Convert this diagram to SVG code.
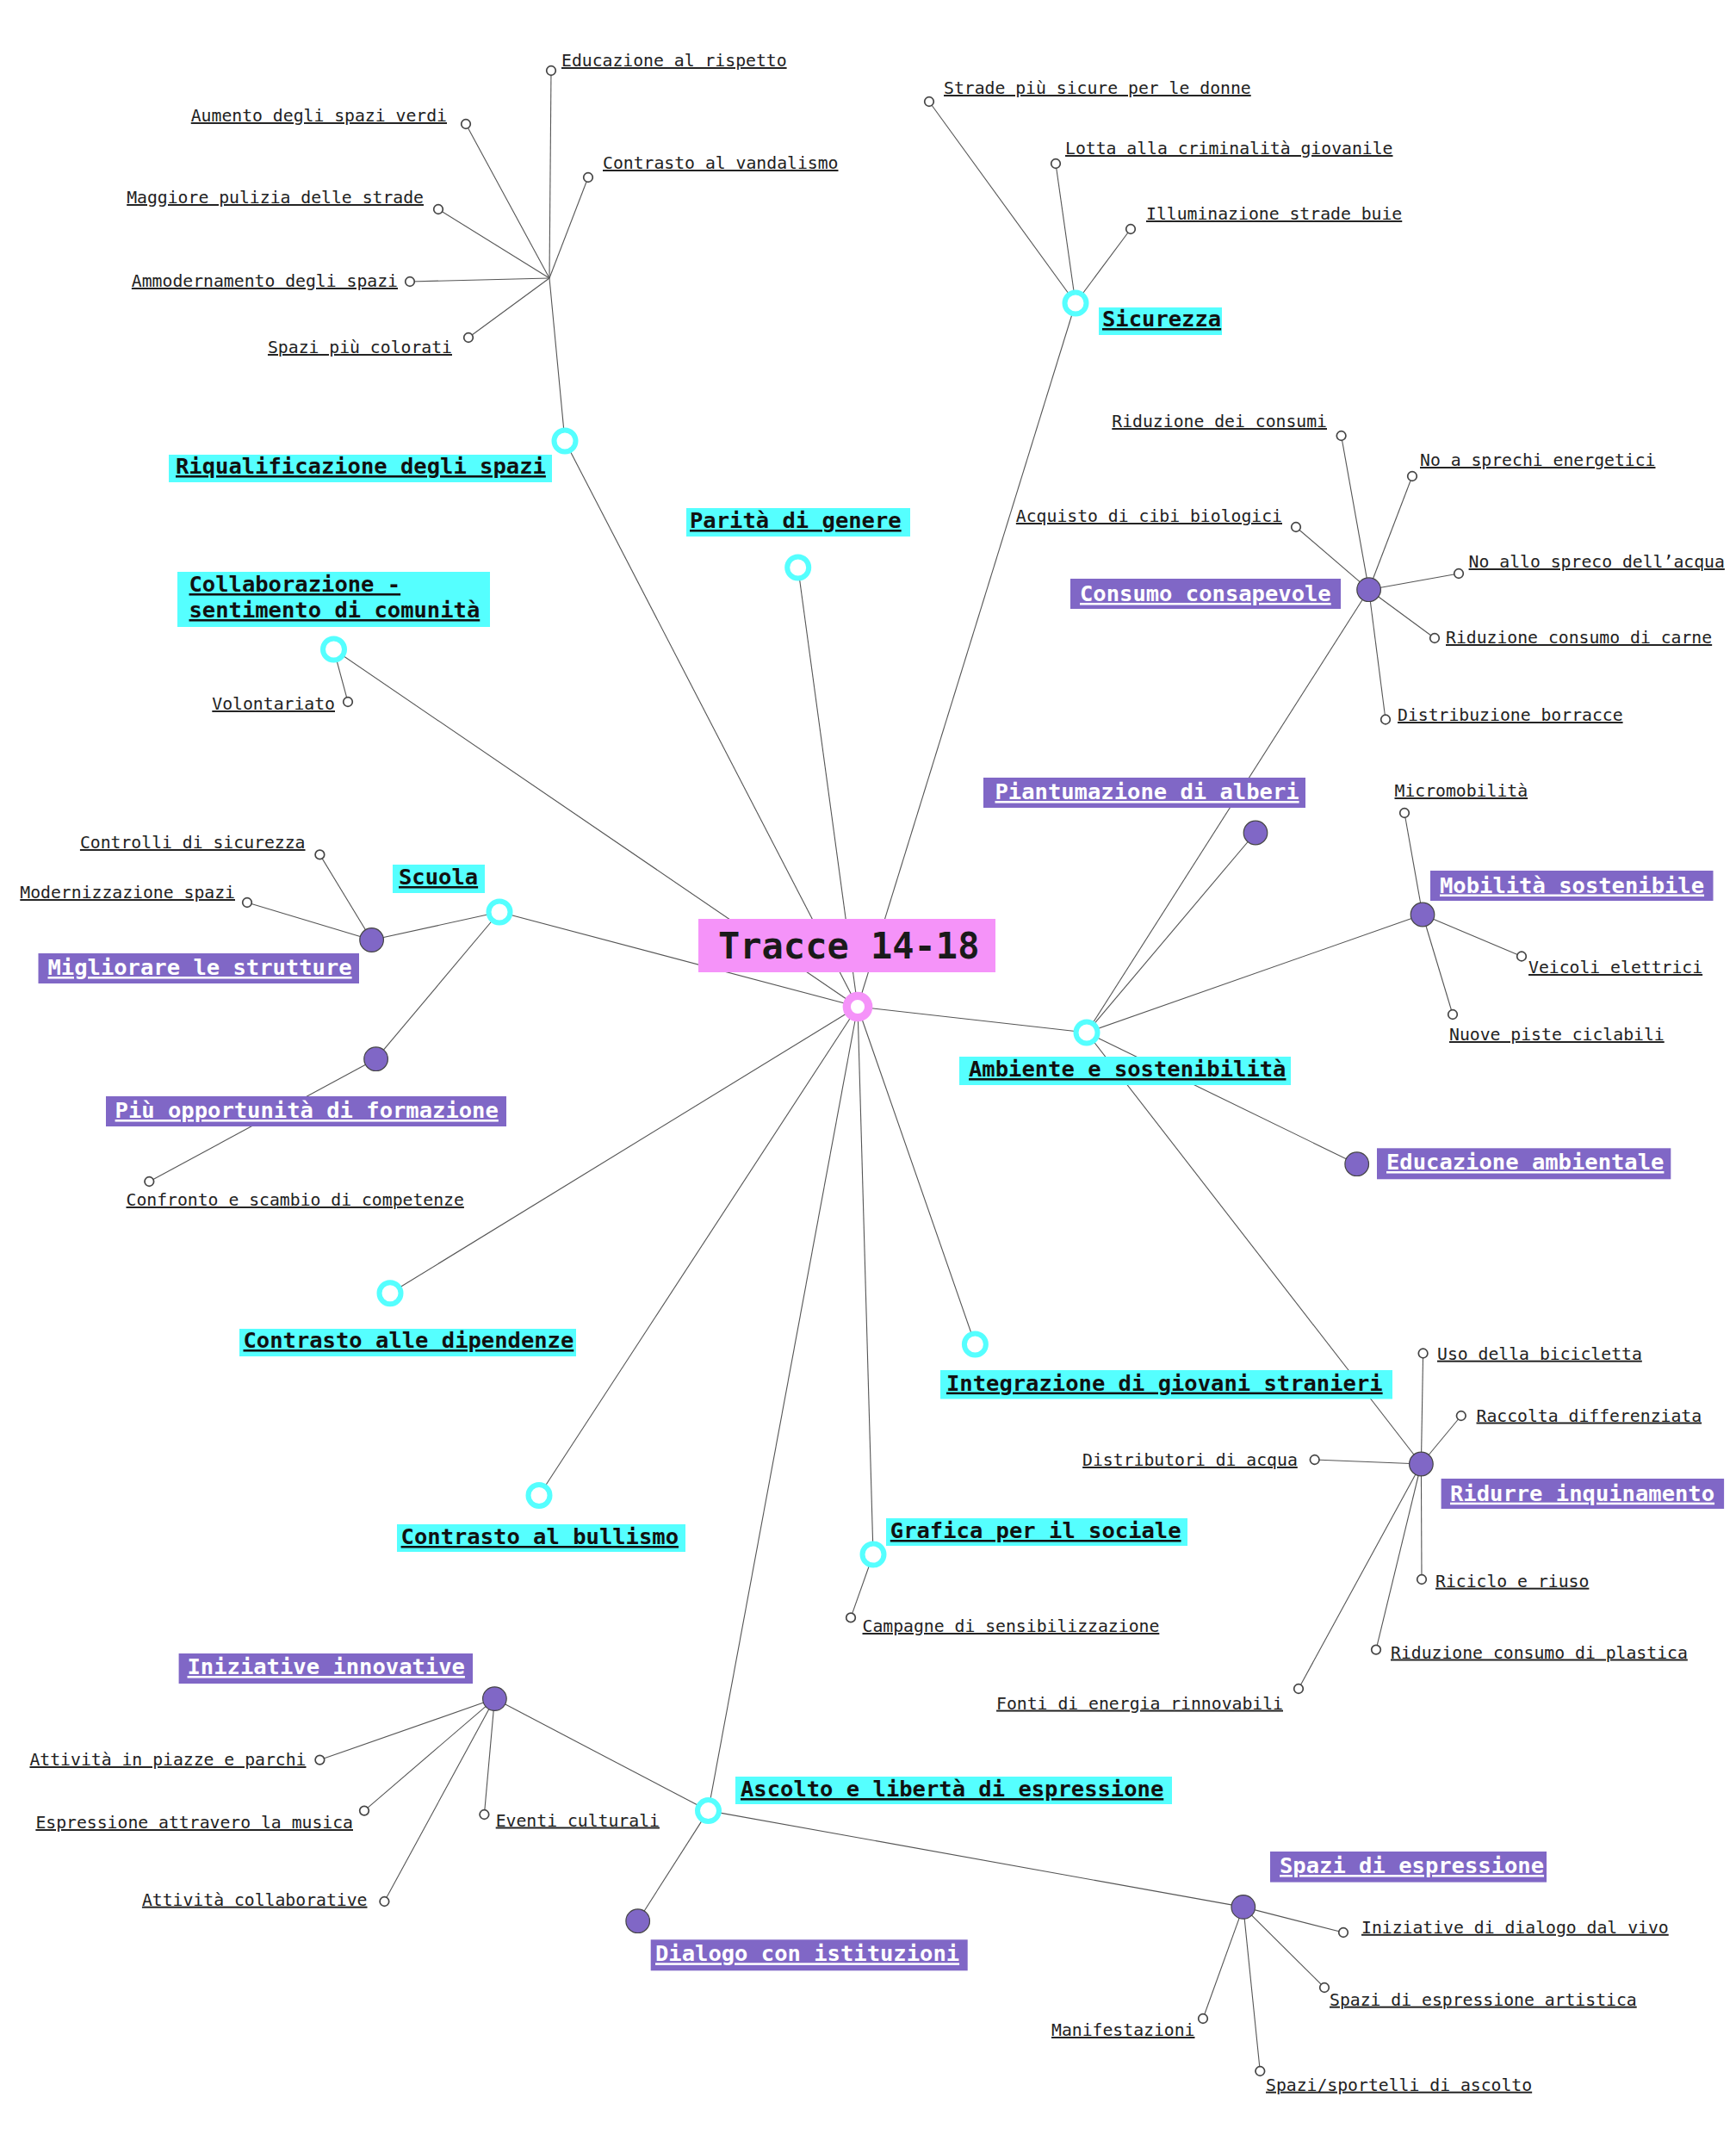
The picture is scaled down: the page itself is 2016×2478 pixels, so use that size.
<svg xmlns="http://www.w3.org/2000/svg" width="2016" height="2478" viewBox="0 0 2016 2478">
<style>
.ln{stroke:#555;stroke-width:1.1;fill:none}
.leaf{fill:#fff;stroke:#444;stroke-width:1.7}
.ring{fill:#fff;stroke:#55FFFF;stroke-width:6}
.pn{fill:#8067C6;stroke:#444;stroke-width:1.2}
.bc{fill:#55FFFF}
.bp{fill:#8067C6}
.tl{font-family:"DejaVu Sans Mono","Liberation Mono",monospace;font-size:19.75px;fill:#222;text-decoration:underline}
.tm{font-family:"DejaVu Sans Mono","Liberation Mono",monospace;font-size:25.5px;font-weight:bold;fill:#111;text-decoration:underline}
.tw{font-family:"DejaVu Sans Mono","Liberation Mono",monospace;font-size:25.5px;font-weight:bold;fill:#fff;text-decoration:underline}
.e{text-anchor:end}
</style>
<rect width="2016" height="2478" fill="#fff"/>
<g id="connectors">
<line class="ln" x1="996" y1="1169" x2="656" y2="512"/>
<line class="ln" x1="996" y1="1169" x2="926.7" y2="659"/>
<line class="ln" x1="996" y1="1169" x2="1249" y2="352"/>
<line class="ln" x1="996" y1="1169" x2="387.5" y2="754"/>
<line class="ln" x1="996" y1="1169" x2="580" y2="1059"/>
<line class="ln" x1="996" y1="1169" x2="1262" y2="1199"/>
<line class="ln" x1="996" y1="1169" x2="453" y2="1501.7"/>
<line class="ln" x1="996" y1="1169" x2="626" y2="1736.5"/>
<line class="ln" x1="996" y1="1169" x2="1132.4" y2="1561"/>
<line class="ln" x1="996" y1="1169" x2="1014" y2="1805"/>
<line class="ln" x1="996" y1="1169" x2="822.5" y2="2102.6"/>
<line class="ln" x1="656" y1="512" x2="638" y2="323"/>
<line class="ln" x1="638" y1="323" x2="640" y2="82"/>
<line class="ln" x1="638" y1="323" x2="541" y2="144"/>
<line class="ln" x1="638" y1="323" x2="683" y2="206"/>
<line class="ln" x1="638" y1="323" x2="509" y2="243"/>
<line class="ln" x1="638" y1="323" x2="476" y2="327"/>
<line class="ln" x1="638" y1="323" x2="544" y2="392"/>
<line class="ln" x1="1249" y1="352" x2="1079" y2="118"/>
<line class="ln" x1="1249" y1="352" x2="1226" y2="190"/>
<line class="ln" x1="1249" y1="352" x2="1313" y2="266"/>
<line class="ln" x1="387.5" y1="754" x2="404" y2="815"/>
<line class="ln" x1="580" y1="1059" x2="431.6" y2="1091.5"/>
<line class="ln" x1="431.6" y1="1091.5" x2="371.4" y2="992.4"/>
<line class="ln" x1="431.6" y1="1091.5" x2="287" y2="1048"/>
<line class="ln" x1="580" y1="1059" x2="436.6" y2="1229.7"/>
<line class="ln" x1="436.6" y1="1229.7" x2="173.3" y2="1372"/>
<line class="ln" x1="1262" y1="1199" x2="1589.6" y2="684.7"/>
<line class="ln" x1="1589.6" y1="684.7" x2="1557.6" y2="506"/>
<line class="ln" x1="1589.6" y1="684.7" x2="1640" y2="553"/>
<line class="ln" x1="1589.6" y1="684.7" x2="1505" y2="612"/>
<line class="ln" x1="1589.6" y1="684.7" x2="1694" y2="666"/>
<line class="ln" x1="1589.6" y1="684.7" x2="1666" y2="741"/>
<line class="ln" x1="1589.6" y1="684.7" x2="1609" y2="835.5"/>
<line class="ln" x1="1262" y1="1199" x2="1458" y2="967"/>
<line class="ln" x1="1262" y1="1199" x2="1652" y2="1062"/>
<line class="ln" x1="1652" y1="1062" x2="1631" y2="944"/>
<line class="ln" x1="1652" y1="1062" x2="1767" y2="1110.5"/>
<line class="ln" x1="1652" y1="1062" x2="1687" y2="1178"/>
<line class="ln" x1="1262" y1="1199" x2="1575.7" y2="1351.7"/>
<line class="ln" x1="1262" y1="1199" x2="1650.4" y2="1700"/>
<line class="ln" x1="1650.4" y1="1700" x2="1652.6" y2="1571.5"/>
<line class="ln" x1="1650.4" y1="1700" x2="1696.8" y2="1644"/>
<line class="ln" x1="1650.4" y1="1700" x2="1526.7" y2="1695"/>
<line class="ln" x1="1650.4" y1="1700" x2="1651" y2="1834"/>
<line class="ln" x1="1650.4" y1="1700" x2="1598" y2="1915.6"/>
<line class="ln" x1="1650.4" y1="1700" x2="1508" y2="1961"/>
<line class="ln" x1="1014" y1="1805" x2="988" y2="1878.4"/>
<line class="ln" x1="822.5" y1="2102.6" x2="574.4" y2="1972.6"/>
<line class="ln" x1="574.4" y1="1972.6" x2="371.4" y2="2043.6"/>
<line class="ln" x1="574.4" y1="1972.6" x2="423" y2="2102.6"/>
<line class="ln" x1="574.4" y1="1972.6" x2="446.4" y2="2208"/>
<line class="ln" x1="574.4" y1="1972.6" x2="562.4" y2="2107"/>
<line class="ln" x1="822.5" y1="2102.6" x2="740.7" y2="2230.7"/>
<line class="ln" x1="822.5" y1="2102.6" x2="1443.8" y2="2214.4"/>
<line class="ln" x1="1443.8" y1="2214.4" x2="1560" y2="2244"/>
<line class="ln" x1="1443.8" y1="2214.4" x2="1538" y2="2308"/>
<line class="ln" x1="1443.8" y1="2214.4" x2="1397" y2="2344"/>
<line class="ln" x1="1443.8" y1="2214.4" x2="1463.3" y2="2405"/>
</g>

<g id="riqualificazione">
<circle class="ring" cx="656" cy="512" r="12.5"/>
<rect class="bc" x="196" y="528" width="445" height="32"/>
<text class="tm" x="204" y="550">Riqualificazione degli spazi</text>
</g>
<g id="riq-leaves">
<circle class="leaf" cx="640" cy="82" r="5.3"/><text class="tl" x="652" y="77">Educazione al rispetto</text>
<circle class="leaf" cx="541" cy="144" r="5.3"/><text class="tl e" x="519" y="141">Aumento degli spazi verdi</text>
<circle class="leaf" cx="683" cy="206" r="5.3"/><text class="tl" x="700" y="196">Contrasto al vandalismo</text>
<circle class="leaf" cx="509" cy="243" r="5.3"/><text class="tl e" x="492" y="236">Maggiore pulizia delle strade</text>
<circle class="leaf" cx="476" cy="327" r="5.3"/><text class="tl e" x="462" y="333">Ammodernamento degli spazi</text>
<circle class="leaf" cx="544" cy="392" r="5.3"/><text class="tl e" x="525" y="410">Spazi più colorati</text>
</g>

<g id="parita">
<circle class="ring" cx="926.7" cy="659" r="12.5"/>
<rect class="bc" x="797" y="590" width="260" height="33"/>
<text class="tm" x="801" y="613">Parità di genere</text>
</g>

<g id="sicurezza">
<circle class="ring" cx="1249" cy="352" r="12.5"/>
<rect class="bc" x="1276" y="357" width="143" height="32"/>
<text class="tm" x="1280" y="379">Sicurezza</text>
<circle class="leaf" cx="1079" cy="118" r="5.3"/><text class="tl" x="1096" y="109">Strade più sicure per le donne</text>
<circle class="leaf" cx="1226" cy="190" r="5.3"/><text class="tl" x="1237" y="179">Lotta alla criminalità giovanile</text>
<circle class="leaf" cx="1313" cy="266" r="5.3"/><text class="tl" x="1331" y="255">Illuminazione strade buie</text>
</g>

<g id="collaborazione">
<circle class="ring" cx="387.5" cy="754" r="12.5"/>
<rect class="bc" x="206" y="664" width="363" height="64"/>
<text class="tm" x="219.5" y="687">Collaborazione -</text>
<text class="tm" x="219.5" y="717">sentimento di comunità</text>
<circle class="leaf" cx="404" cy="815" r="5.3"/><text class="tl e" x="389" y="824">Volontariato</text>
</g>

<g id="scuola">
<circle class="ring" cx="580" cy="1059" r="12.5"/>
<rect class="bc" x="456" y="1004" width="107" height="33"/>
<text class="tm" x="463" y="1027">Scuola</text>
</g>
<g id="migliorare">
<circle class="pn" cx="431.6" cy="1091.5" r="13.8"/>
<rect class="bp" x="44.5" y="1107" width="372.5" height="35"/>
<text class="tw" x="55.5" y="1132">Migliorare le strutture</text>
<circle class="leaf" cx="371.4" cy="992.4" r="5.3"/><text class="tl e" x="354.5" y="985">Controlli di sicurezza</text>
<circle class="leaf" cx="287" cy="1048" r="5.3"/><text class="tl e" x="273" y="1043">Modernizzazione spazi</text>
</g>
<g id="formazione">
<circle class="pn" cx="436.6" cy="1229.7" r="13.8"/>
<rect class="bp" x="123" y="1273" width="465" height="35"/>
<text class="tw" x="133.6" y="1298">Più opportunità di formazione</text>
<circle class="leaf" cx="173.3" cy="1372" r="5.3"/><text class="tl" x="146.5" y="1400">Confronto e scambio di competenze</text>
</g>

<g id="ambiente">
<circle class="ring" cx="1262" cy="1199" r="12.5"/>
<rect class="bc" x="1114" y="1227" width="385" height="33"/>
<text class="tm" x="1125" y="1250">Ambiente e sostenibilità</text>
</g>
<g id="consumo">
<circle class="pn" cx="1589.6" cy="684.7" r="13.8"/>
<rect class="bp" x="1243" y="672" width="314" height="35"/>
<text class="tw" x="1254" y="698">Consumo consapevole</text>
<circle class="leaf" cx="1557.6" cy="506" r="5.3"/><text class="tl e" x="1541" y="496">Riduzione dei consumi</text>
<circle class="leaf" cx="1640" cy="553" r="5.3"/><text class="tl" x="1649" y="541">No a sprechi energetici</text>
<circle class="leaf" cx="1505" cy="612" r="5.3"/><text class="tl e" x="1489" y="606">Acquisto di cibi biologici</text>
<circle class="leaf" cx="1694" cy="666" r="5.3"/><text class="tl" x="1705.6" y="659">No allo spreco dell’acqua</text>
<circle class="leaf" cx="1666" cy="741" r="5.3"/><text class="tl" x="1679" y="747">Riduzione consumo di carne</text>
<circle class="leaf" cx="1609" cy="835.5" r="5.3"/><text class="tl" x="1623" y="837">Distribuzione borracce</text>
</g>
<g id="piantumazione">
<circle class="pn" cx="1458" cy="967" r="13.8"/>
<rect class="bp" x="1142" y="903" width="374" height="35"/>
<text class="tw" x="1155.5" y="928">Piantumazione di alberi</text>
</g>
<g id="mobilita">
<circle class="pn" cx="1652" cy="1062" r="13.8"/>
<rect class="bp" x="1661" y="1011" width="328.5" height="35"/>
<text class="tw" x="1672" y="1036.5">Mobilità sostenibile</text>
<circle class="leaf" cx="1631" cy="944" r="5.3"/><text class="tl" x="1619.5" y="925">Micromobilità</text>
<circle class="leaf" cx="1767" cy="1110.5" r="5.3"/><text class="tl" x="1775" y="1130">Veicoli elettrici</text>
<circle class="leaf" cx="1687" cy="1178" r="5.3"/><text class="tl" x="1683" y="1208">Nuove piste ciclabili</text>
</g>
<g id="educazione-ambientale">
<circle class="pn" cx="1575.7" cy="1351.7" r="13.8"/>
<rect class="bp" x="1599" y="1333.3" width="341.3" height="36"/>
<text class="tw" x="1610" y="1358">Educazione ambientale</text>
</g>
<g id="ridurre">
<circle class="pn" cx="1650.4" cy="1700" r="13.8"/>
<rect class="bp" x="1673.6" y="1717" width="328.5" height="35"/>
<text class="tw" x="1684" y="1742.7">Ridurre inquinamento</text>
<circle class="leaf" cx="1652.6" cy="1571.5" r="5.3"/><text class="tl" x="1669" y="1578.7">Uso della bicicletta</text>
<circle class="leaf" cx="1696.8" cy="1644" r="5.3"/><text class="tl" x="1714.5" y="1650.5">Raccolta differenziata</text>
<circle class="leaf" cx="1526.7" cy="1695" r="5.3"/><text class="tl e" x="1506.8" y="1702">Distributori di acqua</text>
<circle class="leaf" cx="1651" cy="1834" r="5.3"/><text class="tl" x="1667" y="1842.7">Riciclo e riuso</text>
<circle class="leaf" cx="1598" cy="1915.6" r="5.3"/><text class="tl" x="1615" y="1925.5">Riduzione consumo di plastica</text>
<circle class="leaf" cx="1508" cy="1961" r="5.3"/><text class="tl e" x="1490" y="1984.6">Fonti di energia rinnovabili</text>
</g>

<g id="dipendenze">
<circle class="ring" cx="453" cy="1501.7" r="12.5"/>
<rect class="bc" x="278" y="1543" width="391" height="32"/>
<text class="tm" x="282.5" y="1565">Contrasto alle dipendenze</text>
</g>
<g id="bullismo">
<circle class="ring" cx="626" cy="1736.5" r="12.5"/>
<rect class="bc" x="461" y="1770" width="335" height="32"/>
<text class="tm" x="465.6" y="1793">Contrasto al bullismo</text>
</g>
<g id="integrazione">
<circle class="ring" cx="1132.4" cy="1561" r="12.5"/>
<rect class="bc" x="1092" y="1591" width="525" height="33.5"/>
<text class="tm" x="1099" y="1614.6">Integrazione di giovani stranieri</text>
</g>
<g id="grafica">
<circle class="ring" cx="1014" cy="1805" r="12.5"/>
<rect class="bc" x="1029" y="1763" width="350" height="32"/>
<text class="tm" x="1033.8" y="1786">Grafica per il sociale</text>
<circle class="leaf" cx="988" cy="1878.4" r="5.3"/><text class="tl" x="1001.5" y="1895">Campagne di sensibilizzazione</text>
</g>

<g id="ascolto">
<circle class="ring" cx="822.5" cy="2102.6" r="12.5"/>
<rect class="bc" x="854" y="2063" width="507" height="32"/>
<text class="tm" x="860" y="2086">Ascolto e libertà di espressione</text>
</g>
<g id="iniziative">
<circle class="pn" cx="574.4" cy="1972.6" r="13.8"/>
<rect class="bp" x="207.6" y="1920" width="341.4" height="35"/>
<text class="tw" x="217.5" y="1944">Iniziative innovative</text>
<circle class="leaf" cx="371.4" cy="2043.6" r="5.3"/><text class="tl e" x="355.5" y="2050">Attività in piazze e parchi</text>
<circle class="leaf" cx="423" cy="2102.6" r="5.3"/><text class="tl e" x="410" y="2123">Espressione attravero la musica</text>
<circle class="leaf" cx="446.4" cy="2208" r="5.3"/><text class="tl e" x="426.5" y="2212.7">Attività collaborative</text>
<circle class="leaf" cx="562.4" cy="2107" r="5.3"/><text class="tl" x="575.7" y="2120.5">Eventi culturali</text>
</g>
<g id="dialogo">
<circle class="pn" cx="740.7" cy="2230.7" r="13.8"/>
<rect class="bp" x="755.7" y="2252.3" width="368" height="36"/>
<text class="tw" x="761" y="2277.3">Dialogo con istituzioni</text>
</g>
<g id="spazi-espressione">
<circle class="pn" cx="1443.8" cy="2214.4" r="13.8"/>
<rect class="bp" x="1475" y="2150" width="321" height="35.6"/>
<text class="tw" x="1486" y="2175">Spazi di espressione</text>
<circle class="leaf" cx="1560" cy="2244" r="5.3"/><text class="tl" x="1581" y="2244.8">Iniziative di dialogo dal vivo</text>
<circle class="leaf" cx="1538" cy="2308" r="5.3"/><text class="tl" x="1544" y="2328.7">Spazi di espressione artistica</text>
<circle class="leaf" cx="1397" cy="2344" r="5.3"/><text class="tl e" x="1387.5" y="2364">Manifestazioni</text>
<circle class="leaf" cx="1463.3" cy="2405" r="5.3"/><text class="tl" x="1470" y="2427.7">Spazi/sportelli di ascolto</text>
</g>

<g id="root">
<rect x="811" y="1067" width="345" height="62" fill="#F593F9"/>
<text x="834" y="1113" font-family="DejaVu Sans Mono, Liberation Mono, monospace" font-size="42" font-weight="bold" fill="#1a1a1a">Tracce 14-18</text>
<circle cx="996" cy="1169" r="12.7" fill="#fff" stroke="#F593F9" stroke-width="9.3"/>
</g>
</svg>
